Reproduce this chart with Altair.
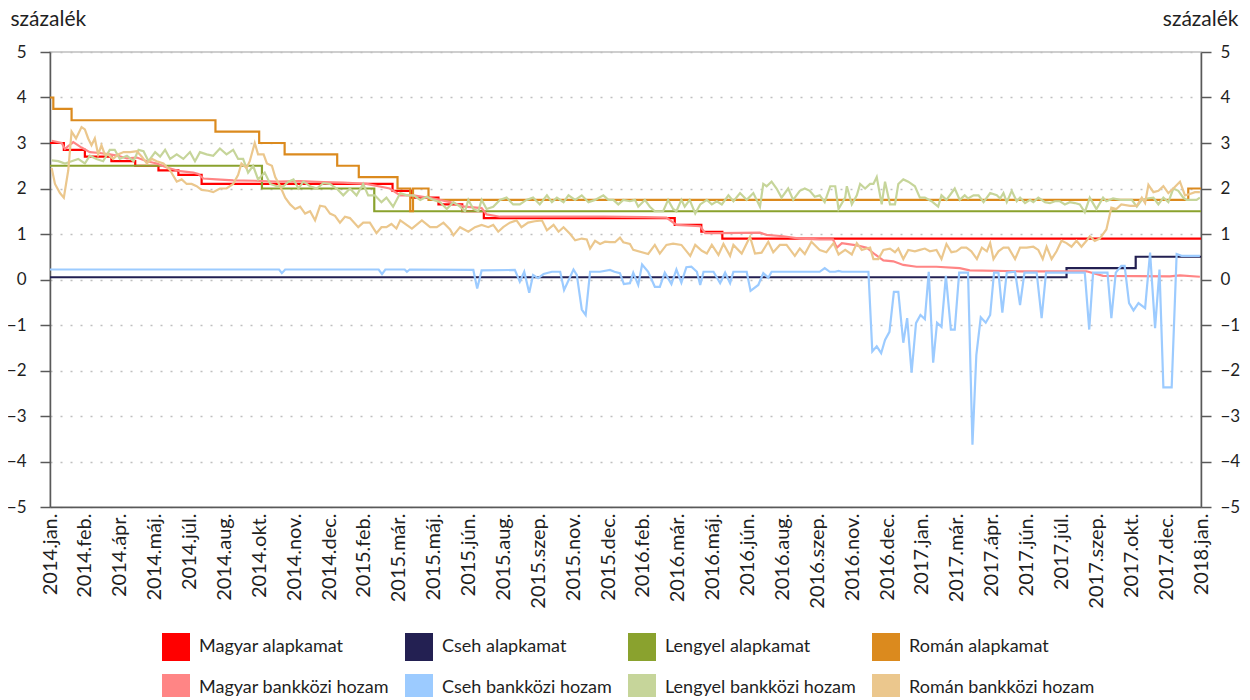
import altair as alt
import pandas as pd

# ---- category labels (x axis) ----
X_LABELS = ["2014.jan.", "2014.feb.", "2014.ápr.", "2014.máj.", "2014.júl.", "2014.aug.",
            "2014.okt.", "2014.nov.", "2014.dec.", "2015.feb.", "2015.már.", "2015.máj.",
            "2015.jún.", "2015.aug.", "2015.szep.", "2015.nov.", "2015.dec.", "2016.feb.",
            "2016.már.", "2016.máj.", "2016.jún.", "2016.aug.", "2016.szep.", "2016.nov.",
            "2016.dec.", "2017.jan.", "2017.már.", "2017.ápr.", "2017.jún.", "2017.júl.",
            "2017.szep.", "2017.okt.", "2017.dec.", "2018.jan."]
N_WEEKS = 208

SERIES = ["Magyar alapkamat", "Cseh alapkamat", "Lengyel alapkamat", "Román alapkamat",
          "Magyar bankközi hozam", "Cseh bankközi hozam", "Lengyel bankközi hozam", "Román bankközi hozam"]
COLORS = ["#FF0000", "#232052", "#8AA22E", "#DB8A1E",
          "#FF8585", "#9CCBFF", "#C6D59A", "#EBC78D"]

# ---- policy rates (week index where the level starts, level) ----
HU_POL_W = [0, 2.5, 6.3, 11.1, 15.4, 19.6, 23.2, 27.4, 61.9, 65.3, 70.2, 74.5, 78.4, 112.9, 117.7, 121.5, 208]
HU_POL_V = [3.0, 2.85, 2.7, 2.6, 2.5, 2.4, 2.3, 2.1, 1.95, 1.8, 1.65, 1.5, 1.35, 1.2, 1.05, 0.9, 0.9]
CZ_POL_W = [0, 183.7, 196.2, 208]
CZ_POL_V = [0.05, 0.25, 0.5, 0.5]
PL_POL_W = [0, 38.3, 58.6, 208]
PL_POL_V = [2.5, 2.0, 1.5, 1.5]
RO_POL_W = [0, 0.6, 3.9, 29.9, 37.8, 42.4, 51.9, 55.8, 62.8, 65.1, 65.6, 68.4, 205.7, 208]
RO_POL_V = [4.0, 3.75, 3.5, 3.25, 3.0, 2.75, 2.5, 2.25, 2.0, 1.5, 2.0, 1.75, 2.0, 2.0]

# ---- interbank yields ----
HU_IB_W = [0.3, 2.1, 2.7, 4.2, 5.7, 7.2, 9.0, 10.8, 12.3, 13.9, 15.7, 17.5, 19.3, 21.1, 23.5, 25.9, 26.8,
           27.7, 30.1, 33.1, 37.0, 41.0, 45.2, 49.4, 53.0, 57.2, 61.4, 63.3, 65.7, 69.3, 72.3, 75.0, 78.0,
           78.9, 81.3, 90.0, 100.0, 107.5, 111.4, 113.2, 117.5, 118.4, 121.1, 128.3, 129.5, 132.5, 135.5,
           139.1, 141.5, 142.2, 143.1, 145.8, 147.6, 149.1, 150.6, 152.4, 154.2, 156.6, 160.2, 164.4, 166.2,
           175.3, 181.3, 187.3, 190.3, 202.4, 204.2, 207.8]
HU_IB_V = [3.05, 3.0, 2.87, 3.02, 2.9, 2.8, 2.78, 2.75, 2.72, 2.66, 2.68, 2.6, 2.55, 2.46, 2.38, 2.35, 2.32,
           2.22, 2.2, 2.18, 2.17, 2.15, 2.16, 2.14, 2.13, 2.1, 2.0, 1.85, 1.85, 1.78, 1.7, 1.6, 1.57,
           1.43, 1.38, 1.38, 1.38, 1.37, 1.36, 1.2, 1.17, 1.02, 1.02, 1.03, 0.98, 0.95, 0.9,
           0.88, 0.88, 0.7, 0.8, 0.75, 0.7, 0.55, 0.42, 0.4, 0.32, 0.28, 0.28, 0.25, 0.2,
           0.18, 0.18, 0.18, 0.08, 0.07, 0.09, 0.06]

CZ_IB_W = [0, 41.4, 41.9, 42.5, 59.4, 60.0, 60.6, 64.1, 64.5, 65.0, 76.5, 77.2, 78.0, 84.0, 84.9, 85.7,
           86.6, 87.3, 88.2, 89.2, 90.7, 92.2, 92.9, 94.6, 95.2, 96.1, 96.8, 97.6, 99.4, 101.2, 102.0,
           103.0, 103.7, 104.8, 105.4, 106.3, 107.0, 108.1, 109.3, 110.2, 111.1, 112.3, 113.2, 114.1,
           115.0, 115.9, 116.9, 117.5, 118.1, 119.9, 121.1, 122.0, 122.9, 123.5, 125.9, 126.6, 128.0,
           128.9, 129.8, 130.4, 139.1, 140.0, 140.9, 141.9, 142.5, 143.1, 147.9, 148.6, 149.4, 150.2,
           150.9, 151.7, 152.5, 153.3, 154.2, 154.9, 155.7, 156.5, 157.3, 158.1, 158.8, 159.6, 160.3,
           161.1, 161.9, 162.8, 163.5, 164.3, 165.9, 166.7, 167.4, 168.2, 169.1, 169.9, 170.6, 171.4,
           172.1, 172.9, 174.4, 175.3, 176.1, 178.3, 179.2, 180.0, 187.0, 187.8, 188.5, 191.1, 191.8,
           192.6, 193.6, 194.2, 195.0, 195.8, 196.7, 197.9, 198.8, 199.7, 200.5, 201.2, 202.7, 203.6,
           204.5, 207.8]
CZ_IB_V = [0.22, 0.22, 0.14, 0.22, 0.22, 0.12, 0.22, 0.22, 0.17, 0.22, 0.21, -0.2, 0.2, 0.21, -0.05, 0.17,
           -0.29, 0.1, 0.03, 0.12, 0.17, 0.17, -0.23, 0.22, 0.1, -0.66, -0.78, 0.17, 0.17, 0.21, 0.17,
           0.14, -0.1, -0.08, 0.15, -0.12, 0.33, 0.17, -0.16, -0.16, 0.15, -0.1, 0.22, -0.07,
           0.27, 0.28, 0.17, -0.12, 0.17, 0.17, -0.08, 0.15, -0.08, 0.17, 0.17, -0.25, -0.12,
           0.14, 0.04, 0.17, 0.17, 0.25, 0.17, 0.17, 0.19, 0.17, 0.17, -1.58, -1.47, -1.62,
           -1.33, -1.15, -0.27, -0.27, -1.39, -0.85, -2.05, -0.96, -0.78, -0.87, 0.17, -1.83, -0.95,
           -1.04, 0.08, -1.1, -1.1, 0.15, 0.15, -3.63, -1.66, -0.83, -0.95, -0.78, 0.15, 0.15,
           -0.73, 0.15, 0.17, -0.56, 0.15, 0.15, -0.85, 0.15, 0.15, -1.1, 0.15, 0.15, -0.85,
           0.15, 0.3, 0.3, -0.52, -0.68, -0.52, -0.63, 0.59, -1.07, 0.22, -2.37, -2.37, 0.56,
           0.52, 0.52]

PL_IB_W = [0.3, 1.5, 2.7, 3.9, 5.1, 6.3, 7.2, 8.4, 9.6, 10.8, 11.7, 12.6, 13.9, 15.1, 16.0, 16.9, 17.8, 19.0,
           19.9, 20.8, 21.7, 22.9, 24.1, 25.3, 26.2, 27.1, 28.3, 29.5, 30.7, 31.9, 33.1, 34.0, 34.9, 35.8,
           36.7, 37.6, 38.8, 39.8, 41.0, 42.2, 43.1, 44.0, 44.9, 45.8, 47.0, 48.2, 49.4, 50.6, 51.8, 53.0,
           54.2, 55.4, 56.6, 57.5, 58.7, 59.9, 60.8, 62.0,
           63.3, 64.5, 65.7, 66.9, 68.1, 69.3, 70.5, 71.7, 72.9, 74.1, 75.0, 75.6, 76.5, 77.4, 78.0, 78.9,
           80.1, 81.3, 82.5, 83.7, 84.9, 86.1, 87.3, 88.5, 89.8, 90.7, 91.6, 92.8, 93.7, 94.9, 96.1, 97.3,
           98.5, 100.0, 100.9, 101.8, 102.7, 103.6, 104.8, 105.7, 106.3, 107.5, 108.4, 109.3, 110.8, 111.7,
           112.6, 113.2, 114.1, 114.7, 115.6, 116.6, 117.5, 118.7, 119.6, 120.5, 121.4, 122.6, 123.5, 124.7,
           125.9, 127.1, 128.3, 128.9, 129.5, 130.4, 131.3, 132.2, 133.4, 134.3, 135.5, 136.4, 137.3, 138.2,
           139.1,
           140.0, 141.0, 141.9, 142.5, 143.7, 144.0, 144.9, 145.8, 146.4, 147.3, 148.2, 148.8, 149.4, 150.3,
           150.9, 151.8, 152.7, 153.3, 154.2, 155.1, 156.3, 157.2, 158.1, 159.3, 160.5, 161.1, 162.0, 163.5,
           164.4, 165.3, 165.9, 166.9, 167.8, 168.7, 169.9, 171.1, 171.7, 172.3, 172.9, 173.8, 174.7, 175.3,
           176.2, 177.1, 177.7, 178.6, 179.8, 180.7, 181.6, 182.5, 183.4, 184.3, 185.2, 186.1, 187.0, 187.9,
           189.1, 190.3, 190.9, 192.1, 193.4, 194.6, 195.5, 196.4, 197.3, 198.2, 199.4, 200.3, 201.2, 202.1,
           203.0, 203.9, 204.8, 205.4, 206.3, 207.2, 207.8]
PL_IB_V = [2.62, 2.6, 2.55, 2.6, 2.65, 2.55, 2.72, 2.65, 2.6, 2.85, 2.85, 2.65, 2.72, 2.6, 2.85, 2.82, 2.6, 2.8,
           2.7, 2.85, 2.65, 2.75, 2.65, 2.8, 2.6, 2.8, 2.75, 2.72, 2.88, 2.75, 2.85, 2.65, 2.65, 2.35,
           2.5, 2.2, 2.35, 2.1, 2.05, 2.05, 2.15, 2.2, 2.0, 2.15, 2.05, 2.0, 2.12, 2.1, 2.0, 1.85,
           2.0, 1.85, 2.1, 1.85, 1.85, 1.7, 1.8, 1.6,
           1.9, 1.85, 1.85, 1.75, 1.82, 1.75, 1.7, 1.55, 1.7, 1.6, 1.5, 1.75, 1.55, 1.5, 1.75, 1.55,
           1.6, 1.75, 1.8, 1.65, 1.65, 1.75, 1.8, 1.65, 1.85, 1.7, 1.8, 1.7, 1.85, 1.75, 1.85, 1.7,
           1.75, 1.85, 1.75, 1.75, 1.65, 1.75, 1.72, 1.75, 1.6, 1.75, 1.6, 1.5, 1.5, 1.75,
           1.55, 1.5, 1.75, 1.6, 1.75, 1.45, 1.65, 1.75, 1.65, 1.72, 1.65, 1.85, 1.72, 1.9,
           1.75, 1.9, 1.6, 2.1, 2.05, 2.15, 2.0, 1.8, 2.0, 1.75, 1.95, 2.0, 1.95, 1.82,
           1.85,
           1.7, 2.05, 2.05, 1.55, 1.8, 2.05, 1.65, 1.85, 2.1, 2.0, 2.1, 2.1, 2.25, 1.65,
           2.15, 1.65, 1.65, 2.1, 2.2, 2.15, 2.05, 1.8, 1.8, 1.72, 1.6, 1.85, 1.75, 2.0,
           1.75, 1.85, 1.78, 1.85, 1.85, 1.7, 1.9, 1.85, 1.78, 1.9, 1.7, 1.95, 1.72, 1.8,
           1.68, 1.75, 1.7, 1.8, 1.7, 1.68, 1.72, 1.72, 1.65, 1.7, 1.68, 1.65, 1.48, 1.8,
           1.55, 1.8, 1.72, 1.78, 1.75, 1.75, 1.75, 1.6, 1.75, 1.78, 1.8, 1.65, 1.8, 1.7,
           2.0, 1.95, 1.8, 1.75, 1.75, 1.75, 1.8]

RO_IB_W = [0.3, 0.9, 1.8, 2.5, 3.3, 3.9, 4.7, 5.7, 6.3, 6.9, 7.5, 8.1, 8.7, 9.3, 9.9, 10.5, 11.4, 12.3, 13.3,
           14.5, 15.7, 16.6, 17.5, 18.4, 19.3, 20.5, 21.7, 22.9, 23.8, 24.7, 25.6, 26.5, 27.4, 28.6, 29.5,
           30.7, 31.9, 33.1, 34.0, 34.6, 35.5, 36.1, 37.0, 37.6, 38.6, 39.2, 40.1, 40.7, 41.6, 42.5, 43.4,
           44.3, 45.2, 46.1, 47.0, 47.9, 48.8, 49.7, 50.6, 51.5, 52.4, 53.3, 54.2, 55.7, 56.6, 57.8, 59.0,
           59.9, 60.8, 61.7, 62.6,
           63.3, 65.4, 67.2, 68.7, 69.9, 71.1, 72.3, 72.9, 74.1, 75.6, 76.8, 78.0, 79.2, 80.1, 81.0, 81.9,
           83.1, 84.3, 85.2, 86.4, 87.6, 88.9, 89.8, 91.0, 91.9, 92.8, 94.0, 94.9, 96.1, 97.0, 97.6, 98.5,
           99.4, 100.3, 101.2, 102.1, 103.0, 103.6, 104.8, 105.4, 108.1, 109.3, 110.2, 111.4, 112.6, 114.1,
           115.7, 116.6, 117.8, 118.7, 119.6, 120.8, 121.7, 122.9, 123.5, 125.0, 126.5, 127.4, 128.6, 129.8,
           130.7, 131.9, 133.1, 134.6, 135.5, 136.4, 137.6,
           139.1, 140.3, 141.6, 142.5, 143.7, 144.9, 145.8, 146.7, 147.6, 148.2, 148.8, 149.7, 150.6, 151.8,
           152.7, 153.3, 154.2, 155.1, 156.3, 157.2, 158.1, 159.0, 160.2, 161.1, 162.0, 162.9, 163.8, 164.7,
           165.6, 166.5, 167.5, 168.4, 169.3, 169.9, 170.5, 171.4, 172.3, 173.2, 174.4, 175.3, 176.5, 177.7,
           178.6, 179.4, 180.1, 181.0, 181.9, 182.8, 183.7, 184.6, 185.5, 186.4, 187.3, 187.9, 188.8, 189.7,
           190.9, 191.8, 192.7, 193.6, 195.2, 196.4, 197.3, 197.9, 198.5, 199.4, 200.3, 201.2, 202.1, 203.0,
           204.2, 205.1, 206.0, 206.9, 207.8]
RO_IB_V = [2.45, 2.1, 1.9, 1.8, 2.4, 3.25, 3.1, 3.35, 3.3, 3.1, 2.95, 3.1, 2.75, 2.95, 2.75, 2.75, 2.65, 2.75, 2.8,
           2.8, 2.82, 2.7, 2.55, 2.65, 2.6, 2.55, 2.4, 2.15, 2.2, 2.1, 2.1, 2.05, 1.97, 1.95, 1.92,
           2.0, 2.0, 2.1, 2.3, 2.55, 2.45, 2.6, 3.0, 2.75, 2.75, 2.55, 2.5, 2.25, 2.05, 1.8, 1.65,
           1.55, 1.6, 1.45, 1.5, 1.3, 1.62, 1.6, 1.45, 1.4, 1.25, 1.38, 1.35, 1.15, 1.25, 1.25, 1.02,
           1.15, 1.15, 1.22, 1.12,
           1.3, 1.12, 1.3, 1.15, 1.15, 1.25, 1.1, 0.97, 1.15, 1.05, 1.15, 1.2, 1.15, 1.2, 1.05, 1.15,
           1.25, 1.3, 1.15, 1.25, 1.28, 1.3, 1.08, 1.2, 1.05, 1.15, 1.0, 0.86, 0.9, 0.88, 0.68, 0.85,
           0.78, 0.83, 0.82, 0.82, 0.92, 0.82, 0.78, 0.65, 0.56, 0.76, 0.57, 0.76, 0.79, 0.76,
           0.52, 0.76, 0.63, 0.57, 0.76, 0.54, 0.78, 0.52, 0.76, 0.57, 0.94, 0.57, 0.59, 0.83,
           0.6, 0.76, 0.76, 0.52, 0.68, 0.56, 0.83,
           0.65, 0.6, 0.8, 0.55, 0.65, 0.55, 0.8, 0.65, 0.68, 0.7, 0.45, 0.45, 0.65, 0.68,
           0.6, 0.68, 0.45, 0.65, 0.62, 0.65, 0.68, 0.62, 0.65, 0.45, 0.78, 0.6, 0.62, 0.7,
           0.7, 0.62, 0.45, 0.7, 0.62, 0.8, 0.45, 0.62, 0.7, 0.7, 0.45, 0.7, 0.7, 0.72,
           0.65, 0.45, 0.72, 0.45, 0.62, 0.85, 0.8, 0.72, 0.85, 0.72, 0.85, 0.95, 0.85, 0.9,
           1.1, 1.58, 1.55, 1.65, 1.62, 1.62, 1.8, 1.68, 2.08, 1.92, 1.95, 2.05, 1.9, 2.0,
           2.15, 1.85, 1.88, 1.92, 1.92]


def long_table(items):
    rows = []
    for name, ws, vs in items:
        for w, v in zip(ws, vs):
            rows.append({"het": w, "ertek": v, "sor": name})
    return pd.DataFrame(rows)


pol_df = long_table([(SERIES[0], HU_POL_W, HU_POL_V), (SERIES[1], CZ_POL_W, CZ_POL_V),
                     (SERIES[2], PL_POL_W, PL_POL_V), (SERIES[3], RO_POL_W, RO_POL_V)])
ib_df = long_table([(SERIES[4], HU_IB_W, HU_IB_V), (SERIES[5], CZ_IB_W, CZ_IB_V),
                    (SERIES[6], PL_IB_W, PL_IB_V), (SERIES[7], RO_IB_W, RO_IB_V)])
legend_df = pd.DataFrame({"sor": SERIES})

FONT = "Lato"
TXT = "#1f1f1f"
AX = "#595959"

# line colours: same mapping, listed in reverse so that this scale is kept apart
# from the (filled-square) legend scale
line_scale = alt.Scale(domain=SERIES[::-1], range=COLORS[::-1])
legend_scale = alt.Scale(domain=SERIES, range=COLORS)

tick_vals = [k * N_WEEKS / (len(X_LABELS) - 1) for k in range(len(X_LABELS))]
label_expr = "[" + ",".join("'" + s + "'" for s in X_LABELS) + "][round(datum.value*%d/%d)]" % (
    len(X_LABELS) - 1, N_WEEKS)

x_enc = alt.X("het:Q", scale=alt.Scale(domain=[0, N_WEEKS], nice=False, zero=False),
              axis=alt.Axis(values=tick_vals, labelExpr=label_expr, labelAngle=-90, labelFont=FONT,
                            labelFontSize=20, labelColor=TXT, tickSize=0, grid=False, domainColor=AX,
                            domainWidth=1.5, labelPadding=6, title=None, labelOverlap=False))

y_scale = alt.Scale(domain=[-5, 5], nice=False, zero=False)
common_y = dict(values=list(range(-5, 6)), tickSize=10, tickColor=AX, tickWidth=1.5,
                domainColor=AX, domainWidth=1.5, labelFont=FONT, labelFontSize=17,
                labelColor=TXT, title="százalék", titleAngle=0, titleBaseline="alphabetic",
                titleY=-27, titleFont=FONT, titleFontSize=21, titleFontWeight="normal",
                titleColor=TXT)

y_left = alt.Y("ertek:Q", scale=y_scale,
               axis=alt.Axis(orient="left", grid=True, gridDash=[2, 8], gridColor="#BFBFBF",
                             gridWidth=1.5, labelPadding=14, titleAlign="left", titleX=-40, **common_y))
y_right = alt.Y("ertek:Q", scale=y_scale,
                axis=alt.Axis(orient="right", grid=False, labelPadding=9, titleAlign="right",
                              titleX=37, **common_y))

policy = alt.Chart(pol_df).mark_line(interpolate="step-after", strokeWidth=2.2).encode(
    x=x_enc, y=y_left,
    stroke=alt.Stroke("sor:N", scale=line_scale, legend=None),
    detail="sor:N",
)

interbank = alt.Chart(ib_df).mark_line(strokeWidth=2.2).encode(
    x=x_enc, y=y_right,
    stroke=alt.Stroke("sor:N", scale=line_scale, legend=None),
    detail="sor:N",
)

legend_layer = alt.Chart(legend_df).mark_square(filled=True, size=1, opacity=0).encode(
    color=alt.Color("sor:N", scale=legend_scale, title=None,
                    legend=alt.Legend(orient="none", legendX=112, legendY=581, columns=4,
                                      direction="horizontal",
                                      symbolType="square", symbolSize=784, symbolStrokeWidth=0,
                                      symbolOpacity=1,
                                      labelFont=FONT, labelFontSize=18, labelColor=TXT, labelOffset=9,
                                      rowPadding=13, columnPadding=16, padding=0, labelLimit=400)),
)

chart = alt.layer(policy, interbank, legend_layer).resolve_axis(y="independent").properties(
    width=1151, height=455,
    autosize=alt.AutoSizeParams(type="none"),
    padding={"left": 42, "top": 44, "right": 40, "bottom": 190},
).configure_view(stroke="#BFBFBF", strokeWidth=1.5)

chart.save("out.html", embed_options={"renderer": "svg", "actions": False})
